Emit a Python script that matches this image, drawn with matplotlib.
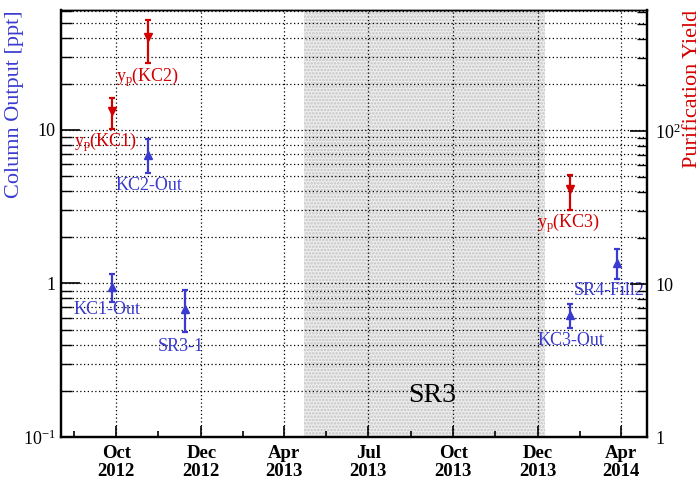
import matplotlib
matplotlib.use("Agg")
import matplotlib.pyplot as plt
import matplotlib.dates as mdates
import numpy as np

plt.rcParams['font.family'] = ['Liberation Serif', 'DejaVu Serif']
plt.rcParams['mathtext.fontset'] = 'custom'
plt.rcParams['mathtext.rm'] = 'Liberation Serif'
plt.rcParams['mathtext.it'] = 'Liberation Serif:italic'
plt.rcParams['hatch.linewidth'] = 1.2

# ---------------- data ----------------
blue_labels = ['KC1-Out', 'KC2-Out', 'SR3-1', 'KC3-Out', 'SR4-Fill2']
blue_dates = ['2012-09-26', '2012-11-04', '2012-12-14', '2014-02-05', '2014-03-27']
blue_vals = [0.95, 6.9, 0.68, 0.62, 1.36]
blue_lo = [0.76, 5.27, 0.48, 0.51, 1.07]
blue_hi = [1.16, 8.7, 0.91, 0.74, 1.68]

red_labels = [r'$\mathregular{y_p}$(KC1)', r'$\mathregular{y_p}$(KC2)', r'$\mathregular{y_p}$(KC3)']
red_dates = ['2012-09-26', '2012-11-04', '2014-02-05']
red_vals = [136, 411, 41.7]
red_lo = [103, 279, 30.5]
red_hi = [165, 537, 51.5]

xtick_dates = ['2012-10-01', '2013-01-01', '2013-04-01', '2013-07-01',
               '2013-10-01', '2014-01-01', '2014-04-01']
xtick_labels = ['Oct\n2012', 'Dec\n2012', 'Apr\n2013', 'Jul\n2013',
                'Oct\n2013', 'Dec\n2013', 'Apr\n2014']
xminor_dates = ['2012-08-16', '2012-11-15', '2013-02-15', '2013-05-16',
                '2013-08-16', '2013-11-15', '2014-02-15']
sr3_span = ['2013-04-22', '2014-01-08']
sr3_text_date = '2013-09-08'

# label offsets in pixels (layout)
blue_offsets = [(-38, -27), (-32, -35), (-27, -42), (-33, -30), (-43, -32)]
red_offsets = [(-38, -36), (-32, -44), (-33, -38)]

BLUE = '#3a3ad0'
RED = '#d40000'

def d(s):
    return mdates.date2num(np.datetime64(s))

fig = plt.figure(figsize=(7.0, 4.79), dpi=100)
ax = fig.add_axes([61/700, 42/479, 586/700, 427/479])
ax2 = ax.twinx()

ax.set_xlim(d('2012-08-02'), d('2014-04-29'))
ax.set_yscale('log')
ax.set_ylim(0.1, 60.5)
ax2.set_yscale('log')
ax2.set_ylim(1, 620)

# shaded SR3 region
ax.axvspan(d(sr3_span[0]), d(sr3_span[1]), facecolor='#ededed',
           edgecolor='#c4c4c4', hatch='.....', linewidth=0, zorder=0.5)
ax.text(d(sr3_text_date), 0.169, 'SR3', fontsize=20, ha='center', va='baseline', color='black')

# ticks and grid
ax.set_xticks([d(s) for s in xtick_dates])
ax.set_xticklabels(xtick_labels, fontweight='bold', fontsize=13.5, linespacing=1.08)
ax.set_xticks([d(s) for s in xminor_dates], minor=True)
ax.set_yticks([0.1, 1, 10])
ax.set_yticklabels([r'$\mathregular{10^{-1}}$', '1', '10'], fontsize=13)
ax2.set_yticks([1, 10, 100])
ax2.set_yticklabels(['1', '10', r'$\mathregular{10^{2}}$'], fontsize=13)

ax.grid(True, which='major', axis='x', linestyle=(0, (1, 2)), color='black', linewidth=0.9)
ax.grid(True, which='both', axis='y', linestyle=(0, (1, 2)), color='black', linewidth=0.9)

ax.tick_params(axis='x', which='major', direction='in', length=8, width=1.2, pad=6, top=False)
ax.tick_params(axis='x', which='minor', direction='in', length=4, width=1.2, top=False)
ax.tick_params(axis='y', which='major', direction='in', length=14, width=1.2, pad=4, right=False)
ax.tick_params(axis='y', which='minor', direction='in', length=8, width=1.0, right=False)
ax2.tick_params(axis='y', which='major', direction='in', length=12, width=1.2, pad=6)
ax2.tick_params(axis='y', which='minor', direction='in', length=7, width=1.0)
ax.yaxis.set_minor_formatter(matplotlib.ticker.NullFormatter())
ax2.yaxis.set_minor_formatter(matplotlib.ticker.NullFormatter())

for a in (ax, ax2):
    for side in ('left', 'right', 'bottom'):
        a.spines[side].set_linewidth(1.6)
    a.spines['top'].set_linewidth(1.0)

# blue points
bx = np.array([d(s) for s in blue_dates])
bv = np.array(blue_vals)
ax.errorbar(bx, bv, yerr=[bv - np.array(blue_lo), np.array(blue_hi) - bv],
            fmt='^', color=BLUE, markersize=6, elinewidth=1.6, capsize=2.5,
            capthick=1.6, zorder=5)
for x, v, lab, off in zip(bx, bv, blue_labels, blue_offsets):
    ax.annotate(lab, (x, v), xytext=off, textcoords='offset pixels',
                ha='left', va='baseline', color=BLUE, fontsize=13, zorder=6)

# red points
rx = np.array([d(s) for s in red_dates])
rv = np.array(red_vals)
ax2.errorbar(rx, rv, yerr=[rv - np.array(red_lo), np.array(red_hi) - rv],
             fmt='v', color=RED, markersize=6, elinewidth=1.6, capsize=2.5,
             capthick=1.6, zorder=5)
for x, v, lab, off in zip(rx, rv, red_labels, red_offsets):
    ax2.annotate(lab, (x, v), xytext=off, textcoords='offset pixels',
                 ha='left', va='baseline', color=RED, fontsize=13, zorder=6)

# axis titles
ax.text(-0.0785, 1.0, 'Column Output [ppt]', rotation=90, ha='center', va='top',
        transform=ax.transAxes, color=BLUE, fontsize=16)
ax.text(1.0768, 1.0, 'Purification Yield', rotation=90, ha='center', va='top',
        transform=ax.transAxes, color=RED, fontsize=16)

fig.savefig('out.png', dpi=100)
